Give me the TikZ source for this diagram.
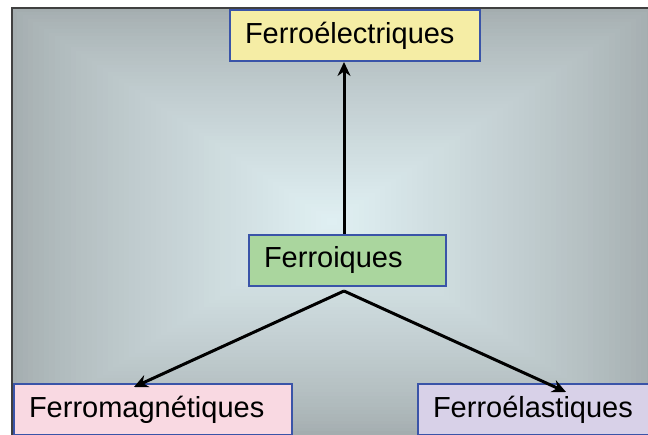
\documentclass[tikz,border=0pt]{standalone}
\usepackage{fontspec}
\setmainfont{Liberation Sans}
\usetikzlibrary{arrows.meta}

\definecolor{bgout}{RGB}{164,173,175}
\definecolor{bgin}{RGB}{224,240,243}
\definecolor{frameblue}{RGB}{58,84,168}
\definecolor{elecfill}{RGB}{245,237,165}
\definecolor{ferrfill}{RGB}{170,214,158}
\definecolor{magnfill}{RGB}{249,217,226}
\definecolor{elasfill}{RGB}{216,209,232}

\begin{document}
\begin{tikzpicture}[x=1pt,y=-1pt]
  \tikzstyle{ClassStyle}=[draw=frameblue,line width=2pt,anchor=north west,
    minimum height=51pt,inner xsep=15pt,inner ysep=0pt,align=left,
    font=\fontsize{29}{34}\selectfont]
  \tikzstyle{LinkStyle}=[line width=3pt,-{Stealth[length=14pt,width=13pt]}]
  \useasboundingbox (0,0) rectangle (648,435);
  \clip (0,0) rectangle (648,435);
  % background
  \foreach \i in {0,...,60}{
    \pgfmathsetmacro\f{1-\i/60}
    \pgfmathsetmacro\p{100*(\i/60)^0.8}
    \fill[bgin!\p!bgout] ({332-320*\f},{221.5-213.5*\f}) rectangle ({332+320*\f},{221.5+213.5*\f});
  }
  \draw[line width=1.5pt,black!75] (12,435) -- (12,8) -- (648,8);
  % classes
  \node[ClassStyle,fill=elecfill,text width=220pt] (elec) at (229,9) {Ferroélectriques};
  \node[ClassStyle,fill=ferrfill,text width=167pt] (ferr) at (248,234) {Ferroiques};
  \node[ClassStyle,fill=magnfill,text width=248pt] (magn) at (13,383) {Ferromagnétiques};
  \node[ClassStyle,fill=elasfill,text width=210pt] (elas) at (417,383) {Ferroélastiques};
  % links
  \coordinate (fork) at ([xshift=-3.5pt,yshift=-4pt]ferr.south);
  \draw[LinkStyle] ([xshift=-3.5pt]ferr.north) -- ([xshift=-3.5pt]ferr.north |- elec.south);
  \draw[LinkStyle] (fork) -- ([xshift=-19pt,yshift=-4pt]magn.north);
  \draw[LinkStyle] (fork) -- ([xshift=28pt,yshift=-9pt]elas.north);
\end{tikzpicture}
\end{document}
